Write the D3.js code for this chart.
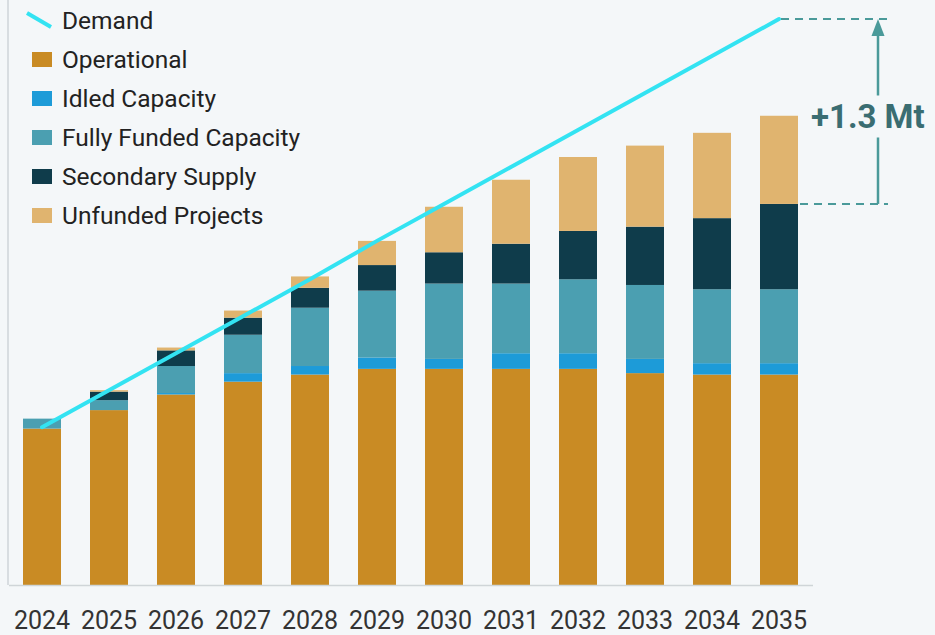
<!DOCTYPE html>
<html>
<head>
<meta charset="utf-8">
<script src="https://cdn.jsdelivr.net/npm/d3@7"></script>
<style>
  html, body { margin: 0; padding: 0; background: #f4f7f9; }
  svg { display: block; font-family: Roboto, "Noto Sans", sans-serif; }
</style>
</head>
<body>
<svg id="chart" width="935" height="635"></svg>
<script>
// ---- Data (Mt) ----
const years = ["2024","2025","2026","2027","2028","2029","2030","2031","2032","2033","2034","2035"];
const operational   = [1.10, 1.23, 1.34, 1.43, 1.48, 1.52, 1.52, 1.52, 1.52, 1.49, 1.48, 1.48];
const idled         = [0.00, 0.00, 0.01, 0.06, 0.06, 0.08, 0.07, 0.11, 0.11, 0.10, 0.08, 0.08];
const fullyFunded   = [0.07, 0.07, 0.19, 0.27, 0.41, 0.47, 0.53, 0.49, 0.52, 0.52, 0.52, 0.52];
const secondary     = [0.00, 0.06, 0.11, 0.12, 0.14, 0.18, 0.22, 0.28, 0.34, 0.41, 0.50, 0.60];
const unfunded      = [0.00, 0.01, 0.02, 0.05, 0.08, 0.17, 0.32, 0.45, 0.52, 0.57, 0.60, 0.62];
const demand        = [1.11, 1.37, 1.63, 1.89, 2.15, 2.42, 2.68, 2.94, 3.20, 3.46, 3.72, 3.98];
const gapLabel = "+1.3 Mt";

const seriesKeys  = ["Operational","Idled Capacity","Fully Funded Capacity","Secondary Supply","Unfunded Projects"];
const seriesData  = [operational, idled, fullyFunded, secondary, unfunded];
const seriesColor = ["#c98b24", "#1d9bd8", "#4b9fb1", "#0f3c4b", "#e0b46f"];
const demandColor = "#33e3f2";
const annotColor  = "#4a9a9a";

// ---- Build table ----
const table = years.map((yr, i) => {
  const row = { year: yr };
  seriesKeys.forEach((k, j) => row[k] = seriesData[j][i]);
  return row;
});
const stacked = d3.stack().keys(seriesKeys)(table);

const svg = d3.select("#chart");
const baseY = 585;

const x = d3.scaleBand().domain(years).range([8.5, 812.5]).paddingInner(0.433).paddingOuter(0.2165);
const y = d3.scaleLinear().domain([0, 4.1]).range([baseY, 2]);

// axes lines
svg.append("line").attr("x1", 8).attr("x2", 8).attr("y1", 0).attr("y2", baseY)
  .attr("stroke", "#cfd5d8").attr("stroke-width", 1.5);

// bars
svg.append("g").selectAll("g").data(stacked).join("g")
  .attr("fill", (d, i) => seriesColor[i])
  .selectAll("rect").data(d => d).join("rect")
  .attr("x", d => x(d.data.year))
  .attr("width", x.bandwidth())
  .attr("y", d => y(d[1]))
  .attr("height", d => Math.max(0, y(d[0]) - y(d[1])));

// baseline / x axis
const xAxis = d3.axisBottom(x).tickSize(0).tickPadding(26);
const gx = svg.append("g").attr("transform", `translate(0,${baseY})`).call(xAxis);
gx.select(".domain").attr("stroke", "#cfd5d8").attr("stroke-width", 1.5);
gx.selectAll("text").attr("font-size", 25).attr("fill", "#333").attr("font-family", "Roboto, sans-serif");

// demand line
const line = d3.line().x((d, i) => x(years[i]) + x.bandwidth() / 2).y(d => y(d));
svg.append("path").datum(demand).attr("d", line)
  .attr("fill", "none").attr("stroke", demandColor).attr("stroke-width", 4).attr("stroke-linecap", "round");

// annotation
const last = years.length - 1;
const supplyTop = operational[last] + idled[last] + fullyFunded[last] + secondary[last];
const yD = y(demand[last]), yS = y(supplyTop);
const xLast = x(years[last]);
const arrowX = 878;
svg.append("line").attr("x1", xLast + x.bandwidth() / 2 + 2).attr("x2", 888).attr("y1", yD).attr("y2", yD)
  .attr("stroke", annotColor).attr("stroke-width", 2).attr("stroke-dasharray", "8,6");
svg.append("line").attr("x1", xLast + x.bandwidth() + 2).attr("x2", 888).attr("y1", yS).attr("y2", yS)
  .attr("stroke", annotColor).attr("stroke-width", 2).attr("stroke-dasharray", "8,6");
const midY = (yD + yS) / 2 + 6;
svg.append("line").attr("x1", arrowX).attr("x2", arrowX).attr("y1", yS).attr("y2", midY + 20)
  .attr("stroke", annotColor).attr("stroke-width", 2.5);
svg.append("line").attr("x1", arrowX).attr("x2", arrowX).attr("y1", midY - 22).attr("y2", yD + 12)
  .attr("stroke", annotColor).attr("stroke-width", 2.5);
svg.append("path")
  .attr("d", `M${arrowX},${yD} L${arrowX - 6.5},${yD + 17} L${arrowX + 6.5},${yD + 17} Z`)
  .attr("fill", annotColor);
svg.append("text").attr("x", 811).attr("y", midY + 11).attr("text-anchor", "start")
  .attr("font-size", 33).attr("font-weight", 700).attr("fill", "#3a6d72")
  .text(gapLabel);

// legend
const legend = svg.append("g");
const rowH = 39;
const lg0 = legend.append("g").attr("transform", "translate(0,20)");
lg0.append("line").attr("x1", 27).attr("y1", -7).attr("x2", 51).attr("y2", 7)
  .attr("stroke", demandColor).attr("stroke-width", 4);
lg0.append("text").attr("x", 62).attr("y", 8.5).attr("font-size", 24.5).attr("fill", "#222").text("Demand");
seriesKeys.forEach((k, i) => {
  const g = legend.append("g").attr("transform", `translate(0,${20 + rowH * (i + 1)})`);
  g.append("rect").attr("x", 32).attr("y", -7).attr("width", 20).attr("height", 15).attr("fill", seriesColor[i]);
  g.append("text").attr("x", 62).attr("y", 8.5).attr("font-size", 24.5).attr("fill", "#222").text(k);
});
</script>
</body>
</html>
